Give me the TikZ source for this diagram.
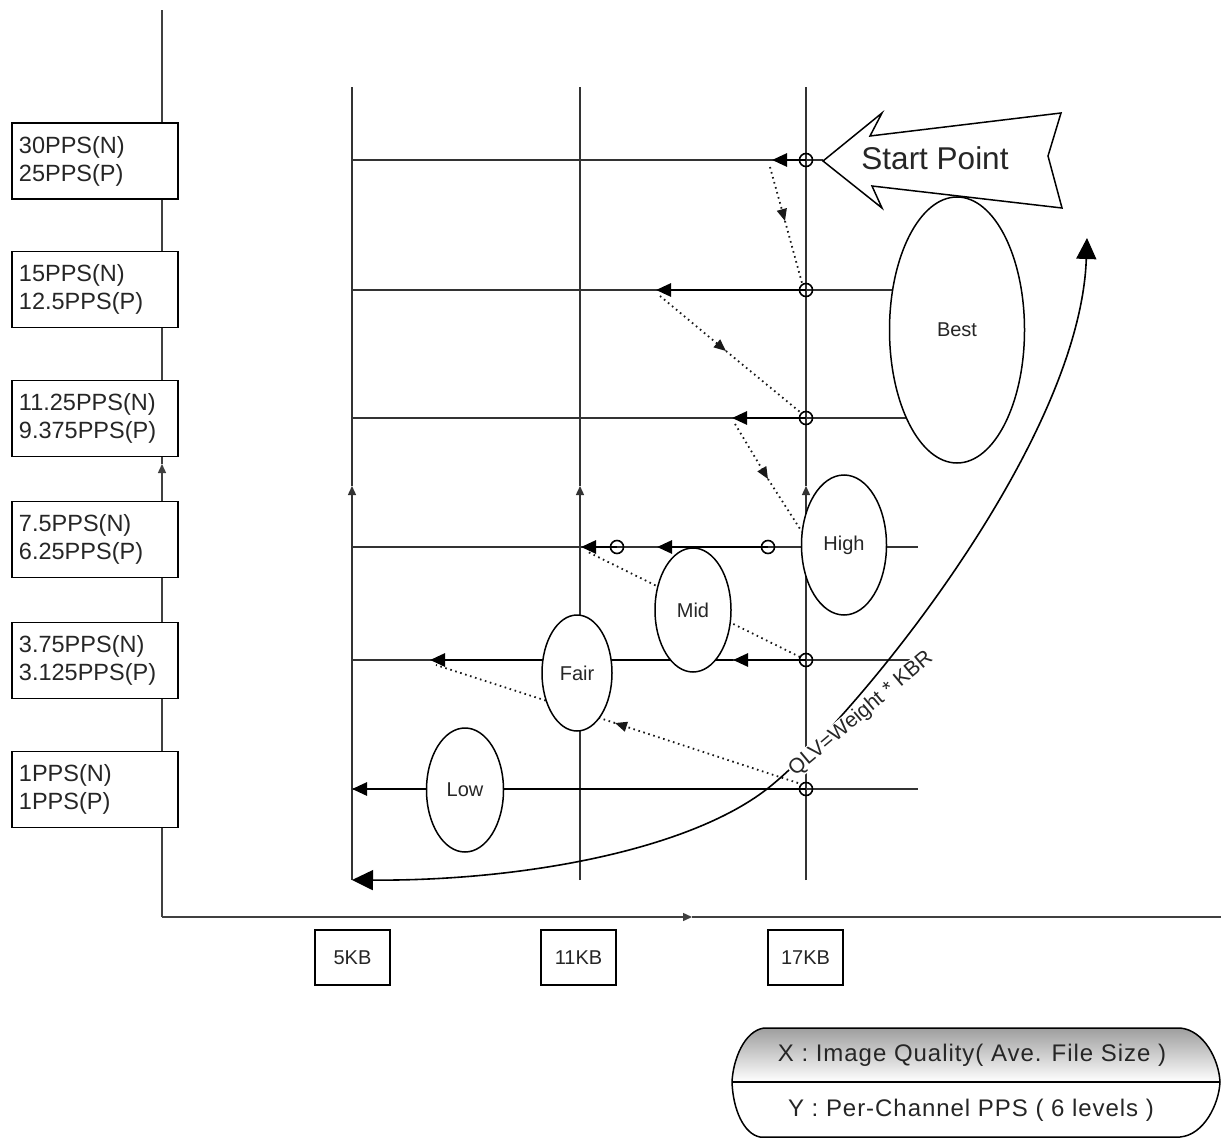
\documentclass[tikz,border=0pt]{standalone}
\usepackage{fontspec}
\setmainfont{Liberation Sans}
\usetikzlibrary{arrows.meta,shapes.geometric}
\begin{document}
\begin{tikzpicture}[x=1pt,y=-1pt,
  axisline/.style={line width=1.4pt, draw=black!75},
  gridline/.style={line width=1.4pt, draw=black!80},
  smalltip/.style={-{Triangle[length=9pt,width=8pt]}},
  fatarrow/.style={line width=2.8pt, draw=black, -{Triangle[length=15pt,width=13pt]}},
  dotline/.style={line width=1.8pt, dash pattern=on 1.6pt off 3.6pt, draw=black!90},
  dotarrow/.style={dotline, -{Triangle[length=12pt,width=10pt]}},
  ppsbox/.style={draw, line width=1.5pt, fill=white, minimum width=166pt, minimum height=76pt,
     text width=152pt, align=left, inner sep=0pt, text=black!85, font=\fontsize{23.5}{28}\selectfont},
  kbbox/.style={draw, line width=1.5pt, fill=white, minimum width=75pt, minimum height=55pt,
     inner sep=0pt, text=black!85, font=\fontsize{20}{24}\selectfont},
  zone/.style={ellipse, draw, line width=1.5pt, fill=white, inner sep=0pt, text=black!85,
     font=\fontsize{20}{24}\selectfont},
  pcirc/.style={circle, draw, line width=1.6pt, minimum size=13pt, inner sep=0pt},
  curvearr/.style={line width=1.6pt, draw=black, {Triangle[length=21pt,width=20pt]}-{Triangle[length=21pt,width=20pt]}},
  legtext/.style={text=black!85, font=\fontsize{24}{28}\selectfont\addfontfeature{LetterSpace=4}}
]
\useasboundingbox[fill=white] (0,0) rectangle (1221,1142);

% ---------------- axes
\coordinate (Otop) at (162,10);
\coordinate (O) at (162,917);
\coordinate (Yarr) at (162,464);
\coordinate (Xarr) at (692,917);
\coordinate (Xend) at (1221,917);
\draw[axisline, smalltip] (O) -- (Yarr);
\draw[axisline] (Yarr) -- (Otop);
\draw[axisline, smalltip] (O) -- (Xarr);
\draw[axisline] (Xarr) -- (Xend);

% ---------------- vertical grid lines
\foreach \n/\x in {a/352,b/580,c/806} {
  \coordinate (v\n t) at (\x,87);
  \coordinate (v\n b) at (\x,880);
  \coordinate (v\n m) at (\x,486);
  \draw[gridline, smalltip] (v\n b) -- (v\n m);
  \draw[gridline] (v\n m) -- (v\n t);
}

% ---------------- horizontal rows
\foreach \i/\y/\e in {1/160/823, 2/290/900, 3/418/915, 4/547/918, 5/660/918, 6/789/918} {
  \coordinate (r\i l) at (352,\y);
  \coordinate (r\i r) at (\e,\y);
  \coordinate (p\i) at (806,\y);
  \draw[gridline] (r\i l) -- (r\i r);
}

% ---------------- thick arrows
\coordinate (t1) at (772,160);
\coordinate (t2) at (656,290);
\coordinate (t3) at (732,418);
\coordinate (q4a) at (768,547);
\coordinate (t4a) at (657,547);
\coordinate (q4b) at (617,547);
\coordinate (t4b) at (581,547);
\coordinate (t5a) at (733,660);
\coordinate (t5b) at (430,660);
\draw[fatarrow] (p1) -- (t1);
\draw[fatarrow] (p2) -- (t2);
\draw[fatarrow] (p3) -- (t3);
\draw[fatarrow] (q4a) -- (t4a);
\draw[fatarrow] (q4b) -- (t4b);
\draw[fatarrow] (p5) -- (t5a);
\draw[fatarrow] (t5a) -- (t5b);
\draw[fatarrow] (p6) -- (r6l);

% ---------------- dotted transitions
\coordinate (d1s) at (770,167); \coordinate (d1m) at (785,221); \coordinate (d1e) at (802,283);
\coordinate (d2s) at (660,296); \coordinate (d2m) at (726,351); \coordinate (d2e) at (800,412);
\coordinate (d3s) at (735,424); \coordinate (d3m) at (768,479); \coordinate (d3e) at (802,532);
\coordinate (d4s) at (800,657); \coordinate (d4e) at (586,551);
\coordinate (d5s) at (798,783); \coordinate (d5m) at (615,723); \coordinate (d5e) at (436,665);
\draw[dotarrow] (d1s) -- (d1m); \draw[dotline] (d1m) -- (d1e);
\draw[dotarrow] (d2s) -- (d2m); \draw[dotline] (d2m) -- (d2e);
\draw[dotarrow] (d3s) -- (d3m); \draw[dotline] (d3m) -- (d3e);
\draw[dotline] (d4s) -- (d4e);
\draw[dotarrow] (d5s) -- (d5m); \draw[dotline] (d5m) -- (d5e);

% ---------------- quality zones
\node[zone, minimum width=135pt, minimum height=266pt] (best) at (957,330) {Best};
\node[zone, minimum width=85pt, minimum height=140pt] (high) at (844,545) {High};
\node[zone, minimum width=76pt, minimum height=124pt] (mid) at (693,610) {Mid};
\node[zone, minimum width=70pt, minimum height=116pt] (fair) at (577,673) {Fair};
\node[zone, minimum width=77pt, minimum height=124pt] (low) at (465,790) {Low};

% ---------------- points
\foreach \i in {1,2,3,5,6} { \node[pcirc] (c\i) at (p\i) {}; }
\node[pcirc] (c4a) at (q4a) {};
\node[pcirc] (c4b) at (q4b) {};

% ---------------- start point arrow
\draw[line width=1.5pt, fill=white] (823,161) -- (882,113) -- (870,136) -- (1061,113) -- (1048,156)
   -- (1062,208) -- (872,186) -- (882,208) -- cycle;
\node[text=black!85, font=\fontsize{31.5}{36}\selectfont] (startlbl) at (935,158) {Start Point};

% ---------------- QLV curve
\coordinate (qa) at (352,880);
\coordinate (qm) at (767,789);
\coordinate (qb) at (1087,238);
\draw[curvearr] (qa) .. controls (520,881) and (687,851) .. (qm)
   .. controls (850,724) and (1080,445) .. (qb);
\node[rotate=40, fill=white, inner sep=0.6pt, text=black!85, font=\fontsize{21}{24}\selectfont] (qlv) at (861,714) {QLV=Weight * KBR};

% ---------------- Y labels
\node[ppsbox] (y1) at (95,161) {30PPS(N)\\25PPS(P)};
\node[ppsbox] (y2) at (95,289.5) {15PPS(N)\\12.5PPS(P)};
\node[ppsbox] (y3) at (95,418.5) {11.25PPS(N)\\9.375PPS(P)};
\node[ppsbox] (y4) at (95,539.5) {7.5PPS(N)\\6.25PPS(P)};
\node[ppsbox] (y5) at (95,660.5) {3.75PPS(N)\\3.125PPS(P)};
\node[ppsbox] (y6) at (95,789.5) {1PPS(N)\\1PPS(P)};

% ---------------- X labels
\node[kbbox] (x1) at (352.5,957.5) {5KB};
\node[kbbox] (x2) at (578.5,957.5) {11KB};
\node[kbbox] (x3) at (805.5,957.5) {17KB};

% ---------------- legend
\shade[top color=black!38, bottom color=white]
  (764,1028) -- (1180,1028) .. controls (1204,1030) and (1219,1060) .. (1220,1082)
  -- (732,1082) .. controls (733,1060) and (744,1031) .. (764,1028) -- cycle;
\draw[line width=1.5pt]
  (764,1028) -- (1180,1028) .. controls (1204,1030) and (1219,1060) .. (1220,1082)
  .. controls (1219,1104) and (1204,1135) .. (1180,1137) -- (760,1137)
  .. controls (744,1134) and (733,1110) .. (732,1082)
  .. controls (733,1060) and (744,1031) .. (764,1028) -- cycle;
\draw[line width=1.5pt] (732,1082) -- (1220,1082);
\node[legtext] (legx) at (972,1055) {X : Image Quality( Ave. File Size )};
\node[legtext] (legy) at (971,1110) {Y : Per-Channel PPS ( 6 levels )};
\end{tikzpicture}
\end{document}
